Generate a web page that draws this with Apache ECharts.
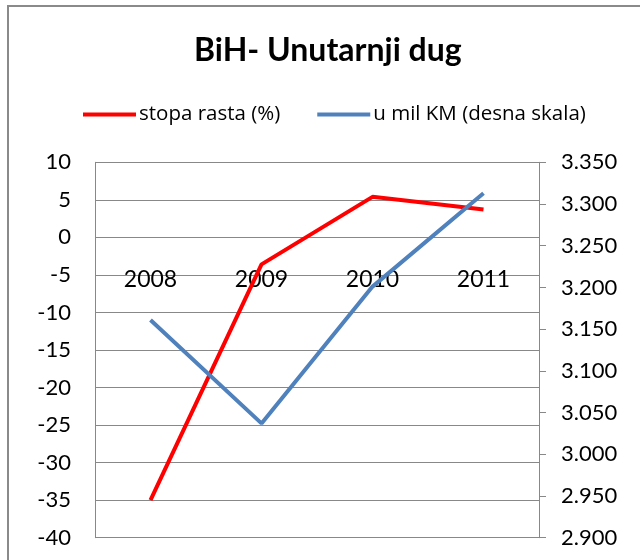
<!DOCTYPE html>
<html><head><meta charset="utf-8">
<script src="https://cdn.jsdelivr.net/npm/echarts@6/dist/echarts.min.js"></script>
<style>html,body{margin:0;padding:0;background:#fff}#c{width:640px;height:560px}</style>
</head><body><div id="c"></div>
<script>
const categories = ['2008', '2009', '2010', '2011'];
const stopaRasta = [-35.0, -3.6, 5.4, 3.7];
const uMilKM = [3161, 3037, 3201, 3313];
const leftTicks = { min: -40, max: 10, interval: 5 };
const rightTicks = { min: 2900, max: 3350, interval: 50 };
const seriesNames = ['stopa rasta (%)', 'u mil KM (desna skala)'];
const titleText = 'BiH- Unutarnji dug';

const FONT = 'Lato';
function fmtDot(v) {
  const t = Math.floor(v / 1000), r = Math.round(v % 1000);
  return t + '.' + String(r).padStart(3, '0');
}
const chart = echarts.init(document.getElementById('c'), null, { renderer: 'canvas' });
chart.setOption({
  animation: false,
  backgroundColor: '#fff',
  textStyle: { fontFamily: FONT },
  title: {
    text: titleText, left: 189, top: 30,
    textStyle: { fontFamily: FONT, fontSize: 32, fontWeight: 'bold', color: '#000' }
  },
  legend: {
    top: 99, left: 78, itemGap: 37, itemWidth: 53, itemHeight: 4,
    icon: 'rect',
    textStyle: { fontFamily: 'Open Sans', fontSize: 20.5, color: '#000', padding: [0, 0, 0, -2] },
    data: seriesNames
  },
  graphic: [{
    type: 'polyline', shape: { points: [[8, 560], [8, 6], [640, 6]] },
    style: { stroke: '#8a8a8a', lineWidth: 2, fill: null }, silent: true
  }],
  grid: { left: 95, right: 101, top: 162.3, bottom: 22.3, containLabel: false, outerBoundsMode: 'none' },
  xAxis: {
    type: 'category', data: categories, boundaryGap: true, position: 'bottom', offset: -300,
    axisLine: { show: false, onZero: false },
    axisTick: { show: false },
    axisLabel: { margin: 30, fontFamily: FONT, fontSize: 23, color: '#000' },
    splitLine: { show: false }
  },
  yAxis: [{
    type: 'value', position: 'left', min: leftTicks.min, max: leftTicks.max, interval: leftTicks.interval,
    axisLine: { show: true, onZero: false, lineStyle: { color: '#888', width: 1 } },
    axisTick: { show: false },
    axisLabel: { margin: 24, fontFamily: FONT, fontSize: 22, color: '#000' },
    splitLine: { show: true, lineStyle: { color: '#888', width: 1 } }
  }, {
    type: 'value', position: 'right', min: rightTicks.min, max: rightTicks.max, interval: rightTicks.interval,
    axisLine: { show: true, onZero: false, lineStyle: { color: '#888', width: 1 } },
    axisTick: { show: true, inside: false, length: 7, lineStyle: { color: '#888' } },
    axisLabel: { margin: 22, fontFamily: FONT, fontSize: 22, color: '#000', formatter: fmtDot },
    splitLine: { show: false }
  }],
  series: [{
    name: seriesNames[0], type: 'line', yAxisIndex: 0, data: stopaRasta,
    symbol: 'none', color: '#ff0000', lineStyle: { width: 4, color: '#ff0000' }
  }, {
    name: seriesNames[1], type: 'line', yAxisIndex: 1, data: uMilKM,
    symbol: 'none', color: '#4f81bd', lineStyle: { width: 4, color: '#4f81bd' }
  }]
});
</script></body></html>
